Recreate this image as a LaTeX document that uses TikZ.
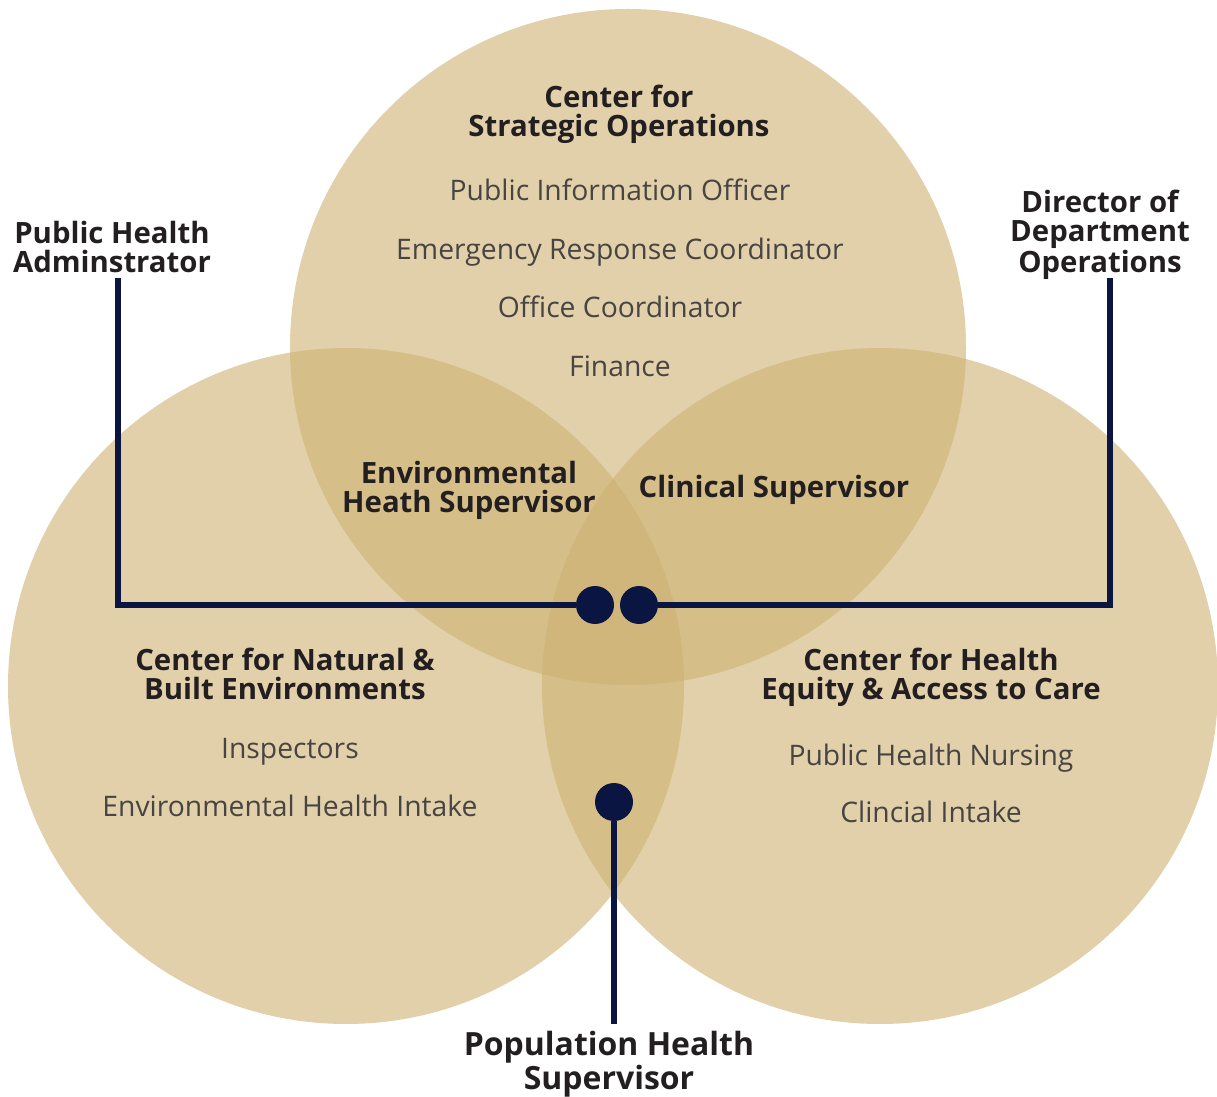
\documentclass[tikz,border=0pt]{standalone}
\usepackage{fontspec}
\setmainfont{Open Sans}
\usepackage{xcolor}
\usetikzlibrary{positioning}
\definecolor{mygold}{RGB}{205,177,113}
\definecolor{mynavy}{RGB}{10,21,65}
\definecolor{mytext}{RGB}{35,31,32}
\definecolor{myitem}{RGB}{72,68,66}
\def\rad{338}
\tikzset{
  circ/.style={fill=mygold,fill opacity=0.6,draw=none},
  head/.style={align=center,text=mytext,inner sep=0,
    font=\fontsize{16.7}{16.5}\selectfont\bfseries},
  item/.style={text=myitem,inner sep=0,text height=0.75em,text depth=0.25em,
    font=\fontsize{16.1}{16.5}\selectfont},
  link/.style={draw=mynavy,line width=3.3pt},
  dot/.style={circle,fill=mynavy,minimum size=0.76cm,inner sep=0}
}
\begin{document}
\begin{tikzpicture}[x=0.02cm,y=-0.02cm]
  \useasboundingbox (0,0) rectangle (1217,1097);

  % circles
  \fill[circ] (628,347) circle[radius=\rad];
  \fill[circ] (346,686) circle[radius=\rad];
  \fill[circ] (880,686) circle[radius=\rad];

  % circle titles
  \node[head] (t-top) at (619,114) {Center for\\Strategic Operations};
  \node[head] (t-left) at (285,674) {Center for Natural \&\\Built Environments};
  \node[head] (t-right) at (931,677) {Center for Health\\Equity \& Access to Care};

  % members
  \foreach \t [count=\i] in {Public Information Officer,Emergency Response Coordinator,Office Coordinator,Finance}
  \node[item] (top-\i) at (620,{196+58.7*(\i-1)}) {\t};
  \foreach \t [count=\i] in {Inspectors,Environmental Health Intake}
  \node[item] (left-\i) at (290,{754+58*(\i-1)}) {\t};
  \foreach \t [count=\i] in {Public Health Nursing,Clincial Intake}
  \node[item] (right-\i) at (931,{761+57*(\i-1)}) {\t};

  % overlaps
  \node[head] (t-env) at (469,490) {Environmental\\Heath Supervisor};
  \node[head] (t-clin) at (774,490) {Clinical Supervisor};

  % outer roles
  \node[head] (r-pha) at (112,247) {Public Health\\Adminstrator};
  \node[head] (r-dir) at (1100,235) {Director of\\Department\\Operations};
  \node[head,font=\fontsize{18.2}{18.1}\selectfont\bfseries] (r-pop) at (609,1064) {Population Health\\Supervisor};

  \coordinate (pha-end) at (118,278);
  \coordinate (dir-end) at (1110,278);
  \coordinate (pop-end) at (614,1024);

  \node[dot] (dot-l) at (595,605) {};
  \node[dot] (dot-r) at (639,605) {};
  \node[dot] (dot-b) at (614,802) {};

  \draw[link] (pha-end) |- (dot-l);
  \draw[link] (dir-end) |- (dot-r);
  \draw[link] (dot-b) -- (pop-end);
\end{tikzpicture}
\end{document}
